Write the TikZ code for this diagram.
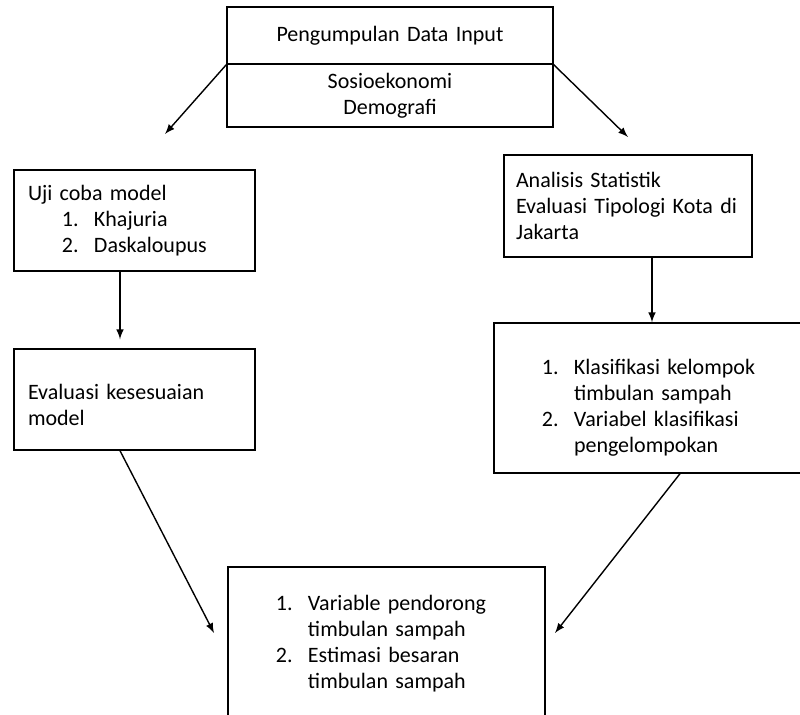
\documentclass[tikz,border=0pt]{standalone}
\usepackage{fontspec}
\setmainfont{Carlito}
\usetikzlibrary{arrows, calc}

\newcommand{\numitem}[1]{\hspace*{17pt}\makebox[16pt][l]{#1}}
\newcommand{\contline}{\hspace*{33pt}}

\begin{document}
\begin{tikzpicture}[x=0.5pt, y=-0.5pt, >=latex,
  stagebox/.style={rectangle, draw, line width=0.7pt, inner xsep=7pt, inner ysep=0pt, align=left, font=\fontsize{11}{13}\selectfont},
  flow/.style={->, line width=0.7pt}]
\useasboundingbox (0,0) rectangle (800,715);
% Input data at the top
\node[stagebox, align=center, text width=149pt, minimum height=28.5pt] (pengumpulan) at (390,35.5) {Pengumpulan Data Input};
\node[stagebox, align=center, text width=149pt, minimum height=31.5pt] (sosio) at (390,95.5) {Sosioekonomi\\Demografi};
% Left branch
\node[stagebox, text width=106.5pt, minimum height=50.5pt] (ujicoba) at (134.5,220.5) {Uji coba model\\\numitem{1.}Khajuria\\\numitem{2.}Daskaloupus};
\node[stagebox, text width=106.5pt, minimum height=50.5pt] (evalmodel) at (134.5,399.5) {\rule{0pt}{13pt}Evaluasi kesesuaian\\model};
% Right branch
\node[stagebox, inner xsep=6pt, text width=112pt, minimum height=51pt] (analisis) at (628,206) {Analisis Statistik\\\mbox{Evaluasi Tipologi Kota di}\\Jakarta};
\node[stagebox, text width=144pt, minimum height=75pt] (klasifikasi) at (652,398) {\rule{0pt}{17pt}\numitem{1.}Klasifikasi kelompok\\\contline timbulan sampah\\\numitem{2.}Variabel klasifikasi\\\contline pengelompokan};
% Result at the bottom
\node[stagebox, text width=144.5pt, minimum height=76.5pt] (estimasi) at (386.5,643.5) {\numitem{1.}Variable pendorong\\\contline timbulan sampah\\\numitem{2.}Estimasi besaran\\\contline timbulan sampah};

% Free arrow ends
\coordinate (leftaxis) at (120,0);
\coordinate (ujitip) at (165,134);
\coordinate (analisistip) at (628,137);
\coordinate (leftin) at (214,633);
\coordinate (rightin) at (555,633);

\draw[flow] (pengumpulan.south west) -- (ujitip);
\draw[flow] (pengumpulan.south east) -- (analisistip);
\draw[flow] (ujicoba.south -| leftaxis) -- ($(evalmodel.north -| leftaxis)+(0,-9)$);
\draw[flow] (analisis.south -| klasifikasi.north) -- (klasifikasi.north);
\draw[flow] (evalmodel.south -| leftaxis) -- (leftin);
\draw[flow] ($(klasifikasi.south)+(28,0)$) -- (rightin);
\end{tikzpicture}
\end{document}
